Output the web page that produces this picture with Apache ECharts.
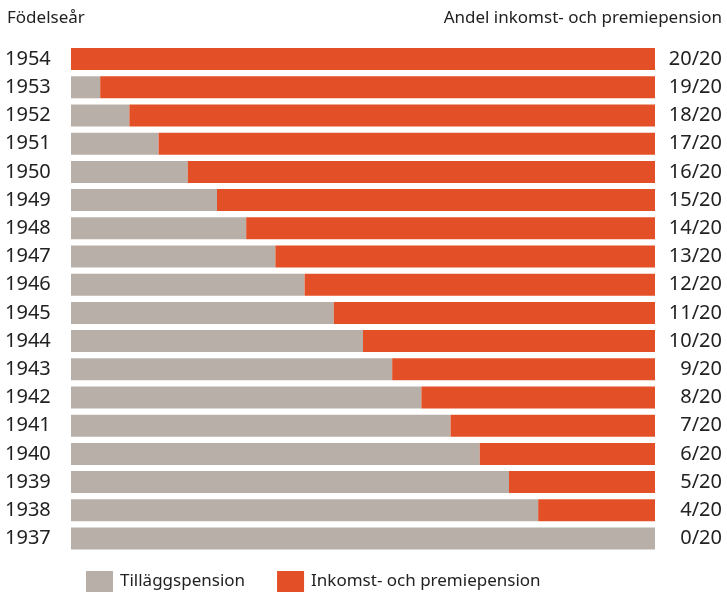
<!DOCTYPE html>
<html>
<head>
<meta charset="utf-8">
<script src="https://cdn.jsdelivr.net/npm/echarts@6/dist/echarts.min.js"></script>
<style>
  html, body { margin: 0; padding: 0; background: #fff; }
  #chart { width: 727px; height: 592px; }
</style>
</head>
<body>
<div id="chart"></div>
<script>
const FONT = '"Noto Sans", sans-serif'

// födelseår, uppifrån och ned
const years = ['1954', '1953', '1952', '1951', '1950', '1949', '1948', '1947', '1946',
  '1945', '1944', '1943', '1942', '1941', '1940', '1939', '1938', '1937']
// tjugondelar
const tillagg = [0, 1, 2, 3, 4, 5, 6, 7, 8, 9, 10, 11, 12, 13, 14, 15, 16, 20]
const inkomst = [20, 19, 18, 17, 16, 15, 14, 13, 12, 11, 10, 9, 8, 7, 6, 5, 4, 0]
const shareLabels = inkomst.map((v) => v + '/20')

const chart = echarts.init(document.getElementById('chart'))

chart.setOption({
  animation: false,
  textStyle: { fontFamily: FONT },
  graphic: [
    { type: 'text', left: 7, top: 10, style: { text: 'Födelseår', fontFamily: FONT, fontSize: 17, fill: '#222' } },
    { type: 'text', right: 5, top: 10, style: { text: 'Andel inkomst- och premiepension', fontFamily: FONT, fontSize: 17, fill: '#222' } },
  ],
  legend: {
    left: 86,
    top: 571,
    padding: 0,
    itemWidth: 27,
    itemHeight: 21,
    itemGap: 32,
    icon: 'rect',
    textStyle: { fontFamily: FONT, fontSize: 17, color: '#222', padding: [0, 0, 0, 2] },
    data: ['Tilläggspension', 'Inkomst- och premiepension'],
  },
  grid: { left: 71, top: 45, width: 584, height: 507.6 },
  xAxis: { type: 'value', min: 0, max: 20, show: false },
  yAxis: [
    {
      type: 'category',
      inverse: true,
      data: years,
      axisLine: { show: false },
      axisTick: { show: false },
      axisLabel: { align: 'left', margin: 66, fontFamily: FONT, fontSize: 20, color: '#222' },
    },
    {
      type: 'category',
      inverse: true,
      position: 'right',
      data: shareLabels,
      axisLine: { show: false },
      axisTick: { show: false },
      axisLabel: { align: 'right', margin: 67, fontFamily: FONT, fontSize: 20, color: '#222' },
    },
  ],
  series: [
    {
      name: 'Tilläggspension',
      type: 'bar',
      stack: 'tot',
      barWidth: 22,
      itemStyle: { color: '#b8afa9' },
      data: tillagg,
    },
    {
      name: 'Inkomst- och premiepension',
      type: 'bar',
      stack: 'tot',
      barWidth: 22,
      itemStyle: { color: '#e34f26' },
      data: inkomst,
    },
  ],
})
</script>
</body>
</html>
